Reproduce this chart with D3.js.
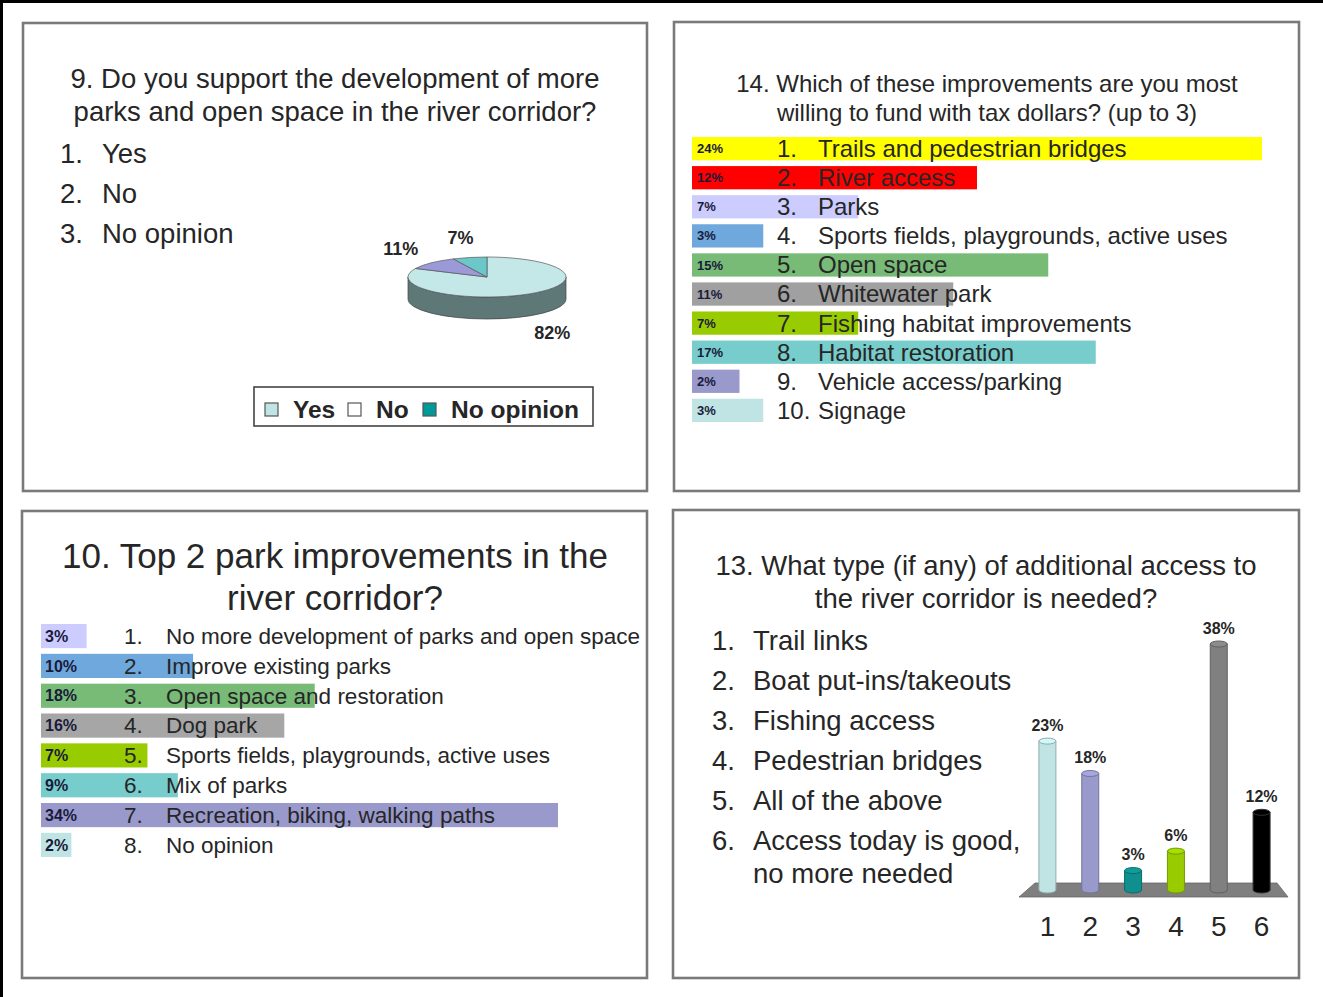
<!DOCTYPE html>
<html><head><meta charset="utf-8">
<script src="https://cdn.jsdelivr.net/npm/d3@7"></script>
<style>
html,body{margin:0;padding:0;background:#fff;}
svg{display:block;font-family:"Liberation Sans",Arial,sans-serif;}
</style></head>
<body>
<svg id="c" width="1323" height="997"></svg>
<script>
// ---------- DATA ----------
// Q9 pie
const q9Title = ["9. Do you support the development of more", "parks and open space in the river corridor?"];
const q9Options = ["Yes", "No", "No opinion"];
const q9Values = [82, 11, 7];
const q9SliceColors = ["#c4e8e8", "#9b99d8", "#6cc8c8"];
const q9LegendColors = ["#c0e4e4", "#ffffff", "#009999"];

// Q14 horizontal bars
const q14Title = ["14. Which of these improvements are you most", "willing to fund with tax dollars? (up to 3)"];
const q14Labels = ["Trails and pedestrian bridges", "River access", "Parks", "Sports fields, playgrounds, active uses", "Open space", "Whitewater park", "Fishing habitat improvements", "Habitat restoration", "Vehicle access/parking", "Signage"];
const q14Values = [24, 12, 7, 3, 15, 11, 7, 17, 2, 3];
const q14Colors = ["#ffff00", "#ff0000", "#ccccff", "#6fa8dc", "#77bb77", "#a0a0a0", "#99cc00", "#77cccc", "#9999cc", "#c0e4e4"];

// Q10 horizontal bars
const q10Title = ["10. Top 2 park improvements in the", "river corridor?"];
const q10Labels = ["No more development of parks and open space", "Improve existing parks", "Open space and restoration", "Dog park", "Sports fields, playgrounds, active uses", "Mix of parks", "Recreation, biking, walking paths", "No opinion"];
const q10Values = [3, 10, 18, 16, 7, 9, 34, 2];
const q10Colors = ["#ccccff", "#6fa8dc", "#77bb77", "#a6a6a6", "#99cc00", "#77cccc", "#9999cc", "#c0e4e4"];

// Q13 3D column chart
const q13Title = ["13. What type (if any) of additional access to", "the river corridor is needed?"];
const q13Options = ["Trail links", "Boat put-ins/takeouts", "Fishing access", "Pedestrian bridges", "All of the above", "Access today is good,|no more needed"];
const q13Cats = ["1", "2", "3", "4", "5", "6"];
const q13Values = [23, 18, 3, 6, 38, 12];
const q13Colors = ["#c0e4e4", "#9999cc", "#108f8f", "#99cc00", "#808080", "#000000"];

// ---------- DRAW ----------
const svg = d3.select("#c");
const TXT = "#262626";

// outer black edges
svg.append("rect").attr("x",0).attr("y",0).attr("width",1323).attr("height",3).attr("fill","#000");
svg.append("rect").attr("x",0).attr("y",0).attr("width",3).attr("height",997).attr("fill","#000");

// panel frames
const panels = [[23,23,624,468],[674,22,625,469],[22,511,625,467],[673,510,626,468]];
svg.selectAll("rect.panel").data(panels).join("rect").attr("class","panel")
  .attr("x",d=>d[0]).attr("y",d=>d[1]).attr("width",d=>d[2]).attr("height",d=>d[3])
  .attr("fill","none").attr("stroke","#7a7a7a").attr("stroke-width",2.6);

function titleLines(lines, cx, ys, size){
  svg.append("g").selectAll("text").data(lines).join("text")
    .attr("x",cx).attr("y",(d,i)=>ys[i]).attr("dy","0.35em")
    .attr("text-anchor","middle").attr("font-size",size).attr("fill",TXT).text(d=>d);
}

// ===== Panel 1: Q9 =====
titleLines(q9Title, 335, [78,111], 27.5);
const g1 = svg.append("g");
q9Options.forEach((o,i)=>{
  g1.append("text").attr("x",60).attr("y",153+40*i).attr("dy","0.35em").attr("font-size",27.5).attr("fill",TXT).text((i+1)+".");
  g1.append("text").attr("x",102).attr("y",153+40*i).attr("dy","0.35em").attr("font-size",27.5).attr("fill",TXT).text(o);
});
// 3D pie
const pcx = 487, pcy = 277, prx = 79, pry = 20, depth = 22;
const arcs = d3.pie().sort(null).startAngle(0).endAngle(2*Math.PI)(q9Values);
const P = (a, dy=0) => [pcx + prx*Math.sin(a), pcy - pry*Math.cos(a) + dy];
// sides (front half, angles pi/2..3pi/2)
arcs.forEach((a,i)=>{
  const s = Math.max(a.startAngle, Math.PI/2), e = Math.min(a.endAngle, 3*Math.PI/2);
  if (e <= s) return;
  const p0 = P(s), p1 = P(e), q0 = P(s,depth), q1 = P(e,depth);
  const path = `M${p0}L${q0}A${prx},${pry} 0 0 1 ${q1}L${p1}A${prx},${pry} 0 0 0 ${p0}Z`;
  svg.append("path").attr("d",path).attr("fill","#5e7878").attr("stroke","#444").attr("stroke-width",0.7);
});
// top faces
arcs.forEach((a,i)=>{
  const p0 = P(a.startAngle), p1 = P(a.endAngle);
  const large = (a.endAngle - a.startAngle) > Math.PI ? 1 : 0;
  const path = `M${pcx},${pcy}L${p0}A${prx},${pry} 0 ${large} 1 ${p1}Z`;
  svg.append("path").attr("d",path).attr("fill",q9SliceColors[i]).attr("stroke","#555").attr("stroke-width",0.7);
});
// labels
arcs.forEach((a,i)=>{
  const m = (a.startAngle + a.endAngle)/2;
  const x = pcx + 122*Math.sin(m);
  const y = pcy - 40*Math.cos(m) + (Math.cos(m) < 0 ? depth : 0);
  svg.append("text").attr("x",x).attr("y",y).attr("dy","0.35em").attr("text-anchor","middle")
    .attr("font-size",18).attr("font-weight","bold").attr("fill",TXT).text(q9Values[i] + "%");
});
// legend
svg.append("rect").attr("x",254).attr("y",387).attr("width",339).attr("height",39)
  .attr("fill","#fff").attr("stroke","#444").attr("stroke-width",1.6);
const legX = [265, 348, 423];
q9Options.forEach((o,i)=>{
  svg.append("rect").attr("x",legX[i]).attr("y",403).attr("width",13).attr("height",13)
    .attr("fill",q9LegendColors[i]).attr("stroke","#555").attr("stroke-width",1.2);
  svg.append("text").attr("x",legX[i]+28).attr("y",409).attr("dy","0.35em")
    .attr("font-size",24.5).attr("font-weight","bold").attr("fill",TXT).text(o);
});

// ===== Horizontal bar helper =====
function hbars(cfg){
  const x = d3.scaleLinear().domain([0, cfg.dmax]).range([cfg.x0, cfg.x1]);
  const y = d3.scaleBand().domain(cfg.labels.map((d,i)=>i)).range(cfg.yr).paddingInner(cfg.pad);
  const g = svg.append("g");
  g.selectAll("rect").data(cfg.values).join("rect")
    .attr("x",x(0)).attr("y",(d,i)=>y(i)).attr("width",d=>x(d)-x(0)).attr("height",y.bandwidth())
    .attr("fill",(d,i)=>cfg.colors[i]);
  g.selectAll("text.pct").data(cfg.values).join("text").attr("class","pct")
    .attr("x",x(0)+cfg.pctDx).attr("y",(d,i)=>y(i)+y.bandwidth()/2).attr("dy","0.35em")
    .attr("font-size",cfg.pctSize).attr("font-weight","bold").attr("fill","#1a1a3a").text(d=>d+"%");
  g.selectAll("text.num").data(cfg.labels).join("text").attr("class","num")
    .attr("x",cfg.numX).attr("y",(d,i)=>y(i)+y.bandwidth()/2).attr("dy","0.35em")
    .attr("font-size",cfg.size).attr("fill",TXT).text((d,i)=>(i+1)+".");
  g.selectAll("text.lab").data(cfg.labels).join("text").attr("class","lab")
    .attr("x",cfg.labX).attr("y",(d,i)=>y(i)+y.bandwidth()/2).attr("dy","0.35em")
    .attr("font-size",cfg.size).attr("fill",TXT).text(d=>d);
}

// ===== Panel 2: Q14 =====
titleLines(q14Title, 987, [84,113], 24);
hbars({labels:q14Labels, values:q14Values, colors:q14Colors, dmax:24, x0:692, x1:1262,
  yr:[137,422], pad:0.2, pctDx:5, pctSize:13, numX:777, labX:818, size:24});

// ===== Panel 3: Q10 =====
titleLines(q10Title, 335, [556,598], 35);
hbars({labels:q10Labels, values:q10Values, colors:q10Colors, dmax:34, x0:41, x1:558,
  yr:[624,857], pad:0.19, pctDx:4, pctSize:16, numX:124, labX:166, size:22.5});

// ===== Panel 4: Q13 =====
titleLines(q13Title, 986, [565,598], 27.5);
const g4 = svg.append("g");
let ly = 640;
q13Options.forEach((o,i)=>{
  const parts = o.split("|");
  g4.append("text").attr("x",712).attr("y",ly).attr("dy","0.35em").attr("font-size",27.5).attr("fill",TXT).text((i+1)+".");
  parts.forEach((p,j)=>{
    g4.append("text").attr("x",753).attr("y",ly + j*33).attr("dy","0.35em").attr("font-size",27.5).attr("fill",TXT).text(p);
  });
  ly += 40;
});
const xb = d3.scaleBand().domain(q13Cats).range([1026,1283]);
const yb = d3.scaleLinear().domain([0,38]).range([890,644]);
const [r0, r1] = xb.range();
// floor
svg.append("polygon").attr("points",[[r0+9,883],[r1-6,883],[r1+5,897],[r0-7,897]].join(" "))
  .attr("fill","#7f7f7f").attr("stroke","#666").attr("stroke-width",0.8);
// cylinders
const bw = 17, ery = 3;
q13Values.forEach((v,i)=>{
  const cx = xb(q13Cats[i]) + xb.bandwidth()/2;
  const top = yb(v), base = yb(0);
  const col = q13Colors[i];
  const dark = d3.color(col).darker(0.8).formatHex();
  const g = svg.append("g");
  g.append("path").attr("d",`M${cx-bw/2},${top}L${cx-bw/2},${base}A${bw/2},${ery} 0 0 0 ${cx+bw/2},${base}L${cx+bw/2},${top}Z`)
    .attr("fill",col).attr("stroke",i===5?"#333":dark).attr("stroke-width",1);
  g.append("ellipse").attr("cx",cx).attr("cy",top).attr("rx",bw/2).attr("ry",ery)
    .attr("fill",d3.color(col).brighter(i===5?0:0.25).formatHex()).attr("stroke",i===5?"#333":dark).attr("stroke-width",1);
  svg.append("text").attr("x",cx).attr("y",top-16).attr("dy","0.35em").attr("text-anchor","middle")
    .attr("font-size",16).attr("font-weight","bold").attr("fill",TXT).text(v+"%");
  svg.append("text").attr("x",cx).attr("y",926).attr("dy","0.35em").attr("text-anchor","middle")
    .attr("font-size",28).attr("fill",TXT).text(q13Cats[i]);
});
</script>
</body></html>
